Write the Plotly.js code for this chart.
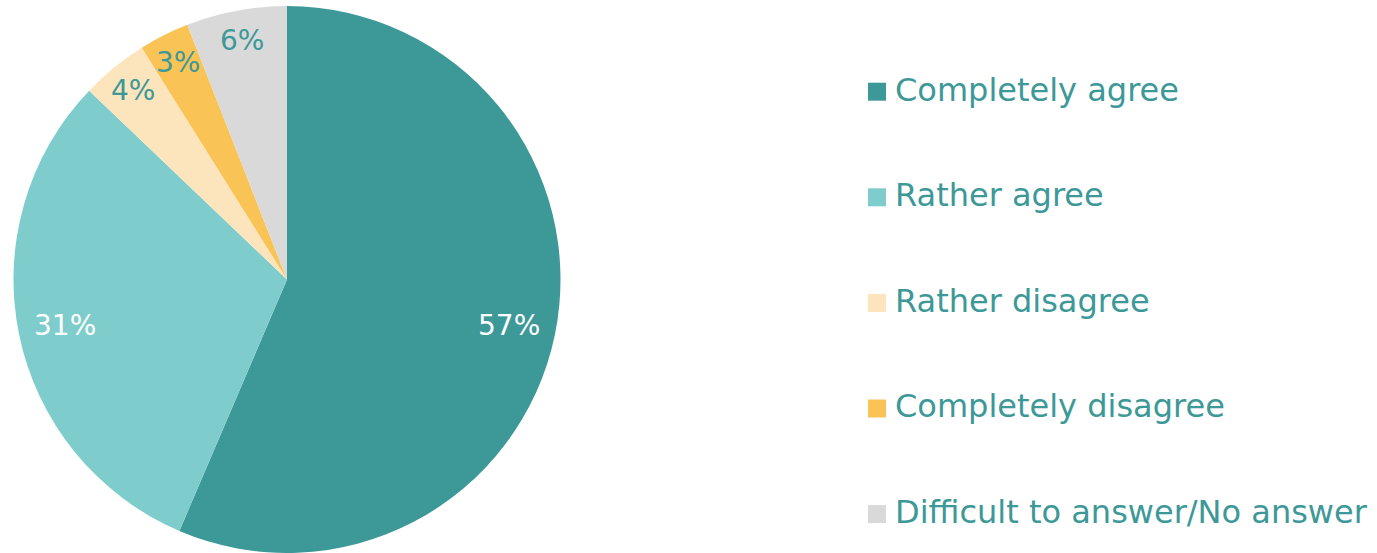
<!DOCTYPE html>
<html>
<head>
<meta charset="utf-8">
<script src="https://cdn.plot.ly/plotly-3.0.1.min.js"></script>
<style>html,body{margin:0;padding:0;background:#fff;}#chart{width:1377px;height:553px;}</style>
</head>
<body>
<div id="chart"></div>
<script>
const categories = ["Completely agree", "Rather agree", "Rather disagree", "Completely disagree", "Difficult to answer/No answer"];
const values = [57, 31, 4, 3, 6];
const colors = ["#3d9898", "#7ecdcc", "#fce4bc", "#f9c455", "#d9d9d9"];
const labelColors = ["#ffffff", "#ffffff", "#3d9898", "#3d9898", "#3d9898"];

const FONT = "DejaVu Sans, sans-serif";
const TEAL = "#3d9898";
const W = 1377, H = 553;
const dom = {x: [13 / W, 561 / W], y: [0, 1 - 6 / H]};

// slice labels, positioned from the slice geometry
const total = values.reduce((a, b) => a + b, 0);
const cx = (dom.x[0] + dom.x[1]) / 2 * W;
const cyPx = H - (dom.y[0] + dom.y[1]) / 2 * H;
const R = Math.min((dom.x[1] - dom.x[0]) * W, (dom.y[1] - dom.y[0]) * H) / 2;
let cum = 0;
const annotations = values.map((v, i) => {
  const mid = (cum + v / 2) / total; cum += v;
  const ang = mid * 2 * Math.PI;
  const rf = v / total < 0.1 ? 0.89 : 0.83;
  const px = cx + Math.sin(ang) * R * rf;
  const py = cyPx - Math.cos(ang) * R * rf;
  return {x: px / W, y: 1 - py / H, xref: "paper", yref: "paper", showarrow: false,
    text: v + "%", font: {family: FONT, size: 28, color: labelColors[i]}, xanchor: "center", yanchor: "middle"};
});

// legend (drawn as text + swatches)
const LEG_X0 = 868, LEG_SW = 18, LEG_TX = 893, LEG_Y0 = 91.7, LEG_DY = 105.6;
const shapes = [];
categories.forEach((c, i) => {
  const yc = LEG_Y0 + i * LEG_DY;
  shapes.push({type: "rect", xref: "paper", yref: "paper",
    x0: LEG_X0 / W, x1: (LEG_X0 + LEG_SW) / W,
    y0: 1 - (yc + LEG_SW / 2) / H, y1: 1 - (yc - LEG_SW / 2) / H,
    fillcolor: colors[i], line: {width: 0}});
  annotations.push({x: LEG_TX / W, y: 1 - (yc - 2) / H, xref: "paper", yref: "paper", showarrow: false,
    text: c, xanchor: "left", yanchor: "middle", font: {family: FONT, size: 32, color: TEAL}});
});

const trace = {
  type: "pie",
  labels: categories,
  values: values,
  sort: false,
  direction: "clockwise",
  rotation: 0,
  marker: {colors: colors, line: {width: 0}},
  textinfo: "none",
  hoverinfo: "none",
  domain: dom
};

const layout = {
  width: W, height: H,
  margin: {l: 0, r: 0, t: 0, b: 0},
  paper_bgcolor: "#fff",
  showlegend: false,
  annotations: annotations,
  shapes: shapes
};
Plotly.newPlot("chart", [trace], layout, {displayModeBar: false, staticPlot: true});
</script>
</body>
</html>
